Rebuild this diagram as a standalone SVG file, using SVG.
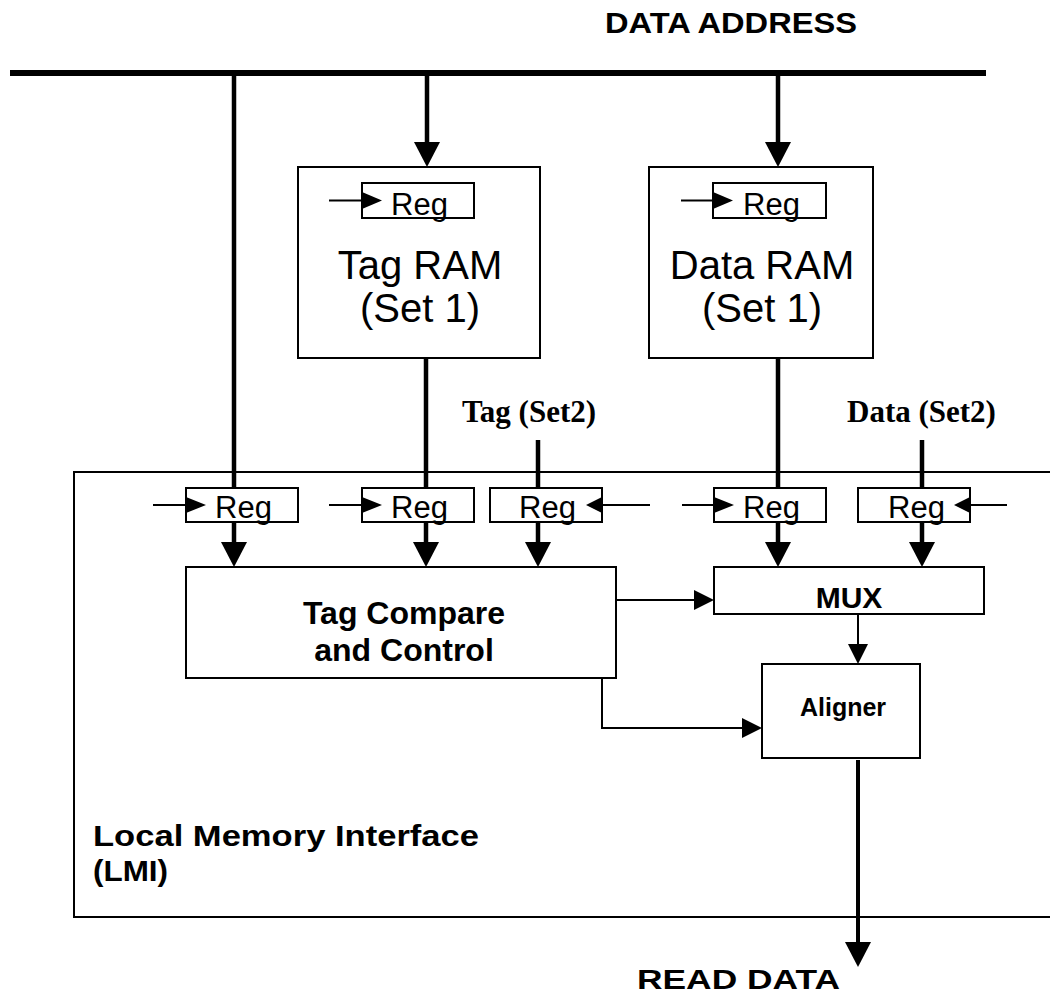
<svg xmlns="http://www.w3.org/2000/svg" width="1050" height="993" viewBox="0 0 1050 993">
<style>
.box{fill:#fff;stroke:#000;stroke-width:2}
.thick{stroke:#000;stroke-width:4.5;fill:none}
.thin{stroke:#000;stroke-width:2;fill:none}
.clk{fill:#000}
.reg{font-family:"Liberation Sans",Arial,sans-serif;font-size:31px;fill:#000}
.big{font-family:"Liberation Sans",Arial,sans-serif;font-size:40px;fill:#000;text-anchor:middle}
.bold{font-family:"Liberation Sans",Arial,sans-serif;font-weight:bold;fill:#000}
.serif{font-family:"Liberation Serif","Times New Roman",serif;font-weight:bold;font-size:31px;fill:#000}
</style>
<defs>
<marker id="ab" markerUnits="userSpaceOnUse" markerWidth="26" markerHeight="26" viewBox="0 0 25 26" refX="0" refY="13" orient="auto"><path d="M0,0 L25,13 L0,26 z" fill="#000"/></marker>
<marker id="as" markerUnits="userSpaceOnUse" markerWidth="20" markerHeight="20" viewBox="0 0 20 20" refX="0" refY="10" orient="auto"><path d="M0,0 L20,10 L0,20 z" fill="#000"/></marker>
</defs>

<text class="bold" x="605" y="33" font-size="29" textLength="252" lengthAdjust="spacingAndGlyphs">DATA ADDRESS</text>

<g id="lmi">
<rect class="box" x="74" y="472" width="1000" height="445" fill="none"/>
<text class="bold" x="93" y="846" font-size="29" textLength="386" lengthAdjust="spacingAndGlyphs">Local Memory Interface</text>
<text class="bold" x="93" y="881" font-size="29" textLength="75" lengthAdjust="spacingAndGlyphs">(LMI)</text>
</g>

<g id="bus"><rect x="10" y="70" width="976" height="6" fill="#000"/></g>

<g id="tagram">
<rect class="box" x="298" y="167" width="242" height="191"/>
<rect class="box" x="362" y="183" width="112" height="35"/>
<polygon class="clk" points="362,192 382,200.5 362,209"/>
<text class="reg" x="391" y="215">Reg</text>
<text class="big" x="420" y="279">Tag RAM</text>
<text class="big" x="420" y="322">(Set 1)</text>
</g>

<g id="dataram">
<rect class="box" x="649" y="167" width="224" height="191"/>
<rect class="box" x="713" y="183" width="113" height="35"/>
<polygon class="clk" points="713,192 733,200.5 713,209"/>
<text class="reg" x="743" y="215">Reg</text>
<text class="big" x="762" y="279">Data RAM</text>
<text class="big" x="762" y="322">(Set 1)</text>
</g>

<g id="reg1">
<rect class="box" x="186" y="488" width="112" height="34"/>
<polygon class="clk" points="186,497 206,505 186,513"/>
<text class="reg" x="215" y="518">Reg</text>
</g>
<g id="reg2">
<rect class="box" x="362" y="488" width="112" height="34"/>
<polygon class="clk" points="362,497 382,505 362,513"/>
<text class="reg" x="391" y="518">Reg</text>
</g>
<g id="reg3">
<rect class="box" x="490" y="488" width="112" height="34"/>
<polygon class="clk" points="602,497 586,505 602,513"/>
<text class="reg" x="519" y="518">Reg</text>
</g>
<g id="reg4">
<rect class="box" x="714" y="488" width="112" height="34"/>
<polygon class="clk" points="714,497 734,505 714,513"/>
<text class="reg" x="743" y="518">Reg</text>
</g>
<g id="reg5">
<rect class="box" x="858" y="488" width="112" height="34"/>
<polygon class="clk" points="970,497 954,505 970,513"/>
<text class="reg" x="888" y="518">Reg</text>
</g>

<g id="tagset2"><text class="serif" x="462" y="422">Tag (Set2)</text></g>
<g id="dataset2"><text class="serif" x="847" y="422">Data (Set2)</text></g>

<g id="tagcompare">
<rect class="box" x="186" y="567" width="430" height="111"/>
<text class="bold" x="404" y="624" font-size="32" text-anchor="middle">Tag Compare</text>
<text class="bold" x="404" y="661" font-size="32" text-anchor="middle">and Control</text>
</g>

<g id="mux">
<rect class="box" x="714" y="567" width="270" height="47"/>
<text class="bold" x="849" y="608" font-size="30" text-anchor="middle">MUX</text>
</g>

<g id="aligner">
<rect class="box" x="762" y="664" width="158" height="94"/>
<text class="bold" x="843" y="716" font-size="25" text-anchor="middle">Aligner</text>
</g>

<g id="readdata"><text class="bold" x="637" y="989" font-size="27" textLength="203" lengthAdjust="spacingAndGlyphs">READ DATA</text></g>

<g id="connectors">
<line class="thick" x1="427" y1="76" x2="427" y2="142" marker-end="url(#ab)"/>
<line class="thick" x1="778" y1="76" x2="778" y2="142" marker-end="url(#ab)"/>
<line class="thick" x1="234" y1="76" x2="234" y2="488"/>
<line class="thick" x1="426" y1="358" x2="426" y2="488"/>
<line class="thick" x1="538" y1="440" x2="538" y2="488"/>
<line class="thick" x1="778" y1="358" x2="778" y2="488"/>
<line class="thick" x1="922" y1="440" x2="922" y2="488"/>
<line class="thick" x1="234" y1="522" x2="234" y2="542" marker-end="url(#ab)"/>
<line class="thick" x1="426" y1="522" x2="426" y2="542" marker-end="url(#ab)"/>
<line class="thick" x1="538" y1="522" x2="538" y2="542" marker-end="url(#ab)"/>
<line class="thick" x1="778" y1="522" x2="778" y2="542" marker-end="url(#ab)"/>
<line class="thick" x1="922" y1="522" x2="922" y2="542" marker-end="url(#ab)"/>
<line class="thin" x1="329" y1="200.5" x2="362" y2="200.5"/>
<line class="thin" x1="681" y1="200.5" x2="713" y2="200.5"/>
<line class="thin" x1="153" y1="505" x2="186" y2="505"/>
<line class="thin" x1="329" y1="505" x2="362" y2="505"/>
<line class="thin" x1="650" y1="505" x2="602" y2="505"/>
<line class="thin" x1="682" y1="505" x2="714" y2="505"/>
<line class="thin" x1="1007" y1="505" x2="970" y2="505"/>
<line class="thin" x1="616" y1="600" x2="694" y2="600" marker-end="url(#as)"/>
<polyline class="thin" points="602,678 602,728 742,728" marker-end="url(#as)"/>
<line class="thin" x1="858" y1="614" x2="858" y2="644" marker-end="url(#as)"/>
<line class="thick" style="stroke-width:4" x1="858" y1="760" x2="858" y2="942" marker-end="url(#ab)"/>
</g>
</svg>
